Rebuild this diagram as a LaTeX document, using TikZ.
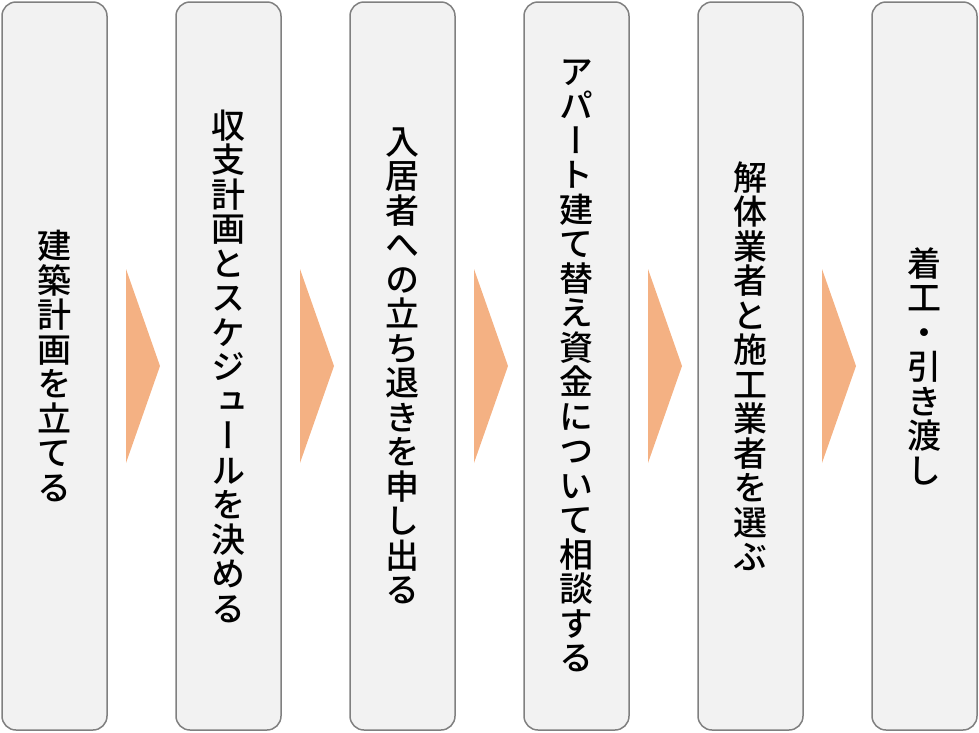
\documentclass[tikz,border=0pt]{standalone}
\usepackage{fontspec}
\newfontfamily\jp[RawFeature=+vert]{Noto Sans CJK JP Medium}
\usetikzlibrary{positioning,calc}
\definecolor{boxfill}{HTML}{F2F2F2}
\definecolor{boxline}{HTML}{808080}
\definecolor{arrfill}{HTML}{F4B183}
\makeatletter
\newcommand\tate[1]{\vbox{\baselineskip=34.5pt\@tfor\tc:=#1\do{\hbox to 34pt{\hss\tc\hss}}}}
\makeatother
\tikzset{
    stepbox/.style={
        rectangle,
        rounded corners=14pt,
        draw=boxline,
        line width=1.5pt,
        fill=boxfill,
        minimum width=105pt,
        minimum height=728pt,
        inner sep=0pt,
        outer sep=0pt,
        font=\jp\fontsize{34pt}{34.5pt}\selectfont,
    },
    arr/.style={
        fill=arrfill,
        draw=none,
    },
    node distance=69pt,
  }

\begin{document}
\begin{tikzpicture}[x=1pt,y=-1pt]
              \useasboundingbox (0,0) rectangle (979,732);
              \node [stepbox] (s1) at (54.5,366) {\tate{建築計画を立てる}};
              \node [stepbox,right=of s1] (s2) {\tate{収支計画とスケジュールを決める}};
              \node [stepbox,right=of s2] (s3) {\tate{入居者への立ち退きを申し出る}};
              \node [stepbox,right=of s3] (s4) {\tate{アパート建て替え資金について相談する}};
              \node [stepbox,right=of s4] (s5) {\tate{解体業者と施工業者を選ぶ}};
              \node [stepbox,right=of s5] (s6) {\tate{着工・引き渡し}};

              \foreach \i in {1,...,5}
                \fill[arr] ($(s\i.east)+(19,-97)$) -- ($(s\i.east)+(53,0)$) -- ($(s\i.east)+(19,97)$) -- cycle;

            \end{tikzpicture}
\end{document}
